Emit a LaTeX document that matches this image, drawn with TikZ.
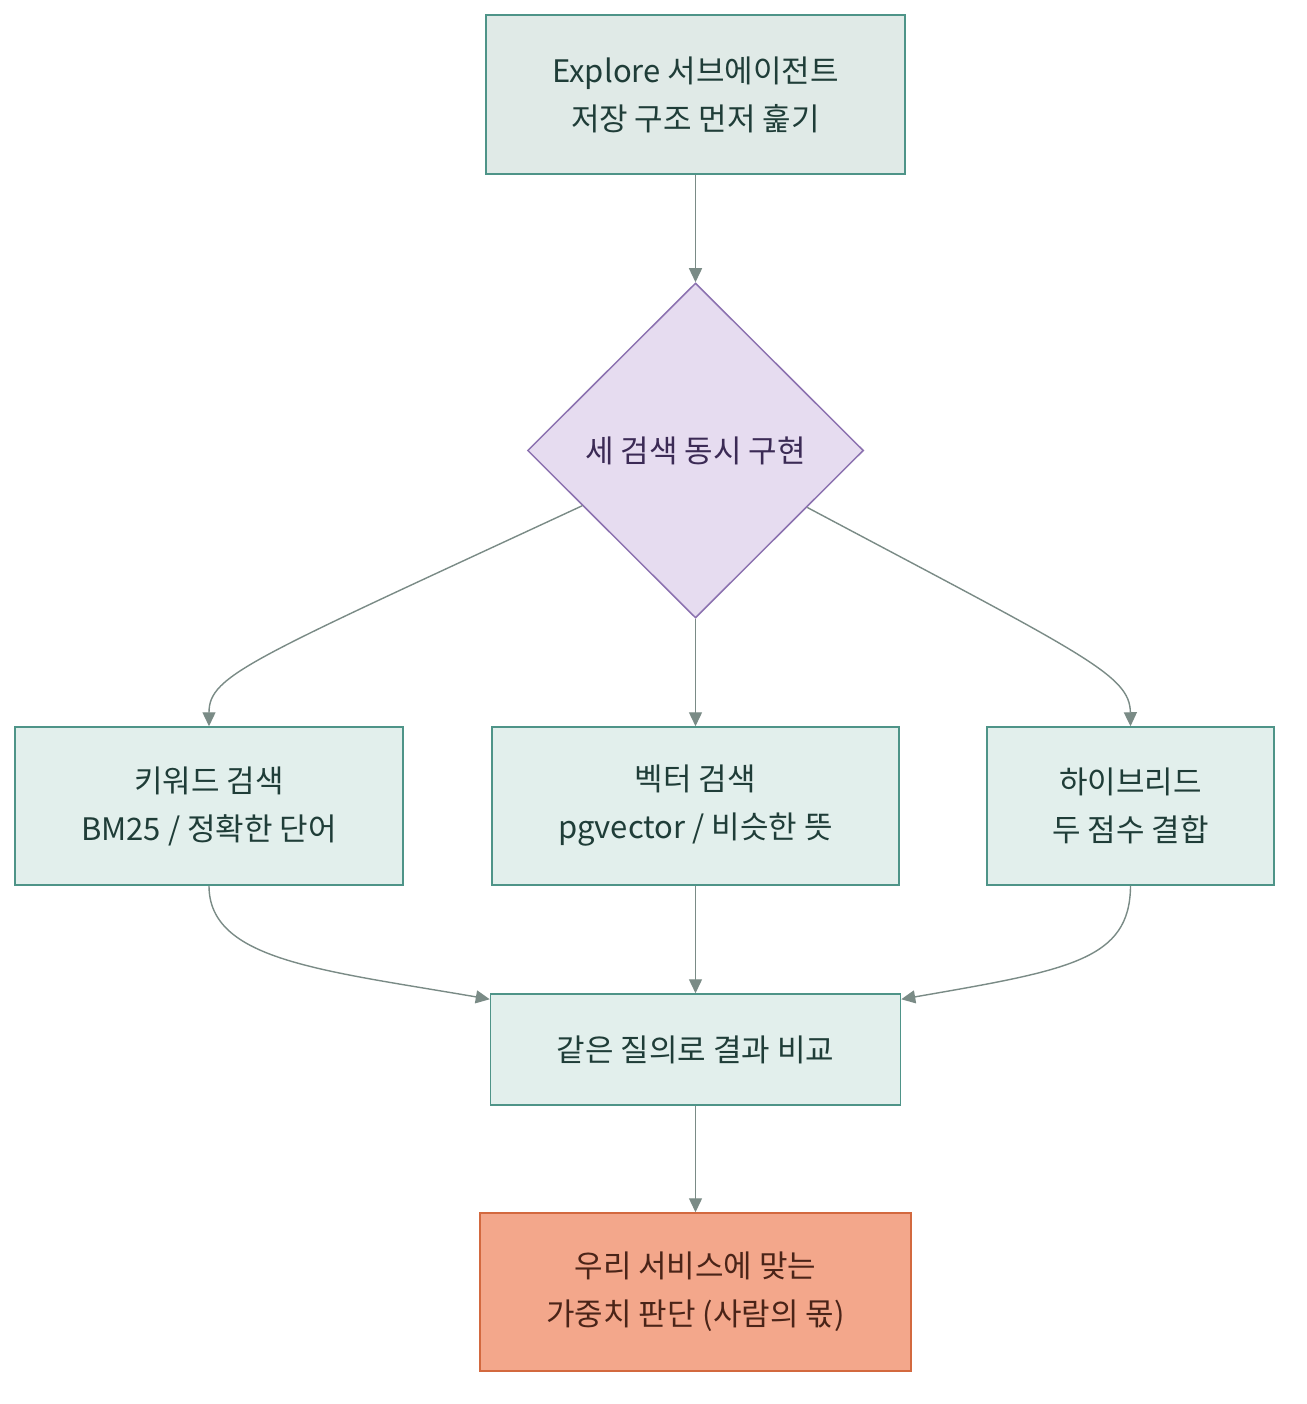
\documentclass[tikz,border=0pt]{standalone}
\usepackage{fontspec}
\setmainfont{Noto Sans CJK KR}
\usetikzlibrary{arrows.meta,positioning,calc,shapes.geometric}
\definecolor{SageFill}{HTML}{E2EFEC}
\definecolor{TopFill}{HTML}{E0EAE7}
\definecolor{SageLine}{HTML}{4E9488}
\definecolor{SageText}{HTML}{1F3D38}
\definecolor{LilacFill}{HTML}{E6DCF0}
\definecolor{LilacLine}{HTML}{8C72B0}
\definecolor{LilacText}{HTML}{3B2A55}
\definecolor{PeachFill}{HTML}{F3A78B}
\definecolor{PeachLine}{HTML}{D3693F}
\definecolor{PeachText}{HTML}{4A2418}
\definecolor{EdgeGray}{HTML}{7A8B86}

\begin{document}
\begin{tikzpicture}[x=1pt,y=-1pt,
      box/.style={draw=SageLine,line width=1.5pt,fill=SageFill,text=SageText,
                  align=center,inner sep=0pt,minimum height=158pt,
                  font=\fontsize{31}{48}\selectfont},
      decide/.style={diamond,draw=LilacLine,line width=1.5pt,fill=LilacFill,
                     text=LilacText,inner sep=0pt,minimum width=336pt,
                     minimum height=335pt,font=\fontsize{31}{48}\selectfont},
      result/.style={box,draw=PeachLine,fill=PeachFill,text=PeachText},
      arr/.style={-{Triangle[length=14pt,width=13pt]},line width=1.4pt,EdgeGray},
    ]
    \path[use as bounding box,fill=white] (0,0) rectangle (1306,1404);
    % Start
    \node[box,fill=TopFill,minimum width=419pt,minimum height=159pt] (explore) at (695.5,94.5)
        {Explore 서브에이전트\\저장 구조 먼저 훑기};
    % Decision
    \node[decide] (impl) at (695.5,450.5) {세 검색 동시 구현};
    % Three searches
    \node[box,minimum width=388pt] (keyword) at (209,806) {키워드 검색\\BM25 / 정확한 단어};
    \node[box,minimum width=407pt] (vector)  at (695.5,806) {벡터 검색\\pgvector / 비슷한 뜻};
    \node[box,minimum width=287pt] (hybrid)  at (1130.5,806) {하이브리드\\두 점수 결합};
    % Compare and decide
    \node[box,minimum width=410pt,minimum height=111pt] (compare) at (695.5,1049.5) {같은 질의로 결과 비교};
    \node[result,minimum width=431pt] (weigh) at (695.5,1292) {우리 서비스에 맞는\\가중치 판단 (사람의 몫)};

    \draw[arr] (explore.south) -- (impl.north);
    \draw[arr] (impl.206) .. controls (250,660) and (209,675) .. (keyword.north);
    \draw[arr] (impl.south) -- (vector.north);
    \draw[arr] (impl.-27) .. controls (1085,655) and (1130,675) .. (hybrid.north);
    \draw[arr] (keyword.south) .. controls (209,960) and (320,970) .. ([yshift=-6pt]compare.north west);
    \draw[arr] (vector.south) -- (compare.north);
    \draw[arr] (hybrid.south) .. controls (1130,960) and (1070,970) .. ([yshift=-6pt]compare.north east);
    \draw[arr] (compare.south) -- (weigh.north);
  \end{tikzpicture}
\end{document}
